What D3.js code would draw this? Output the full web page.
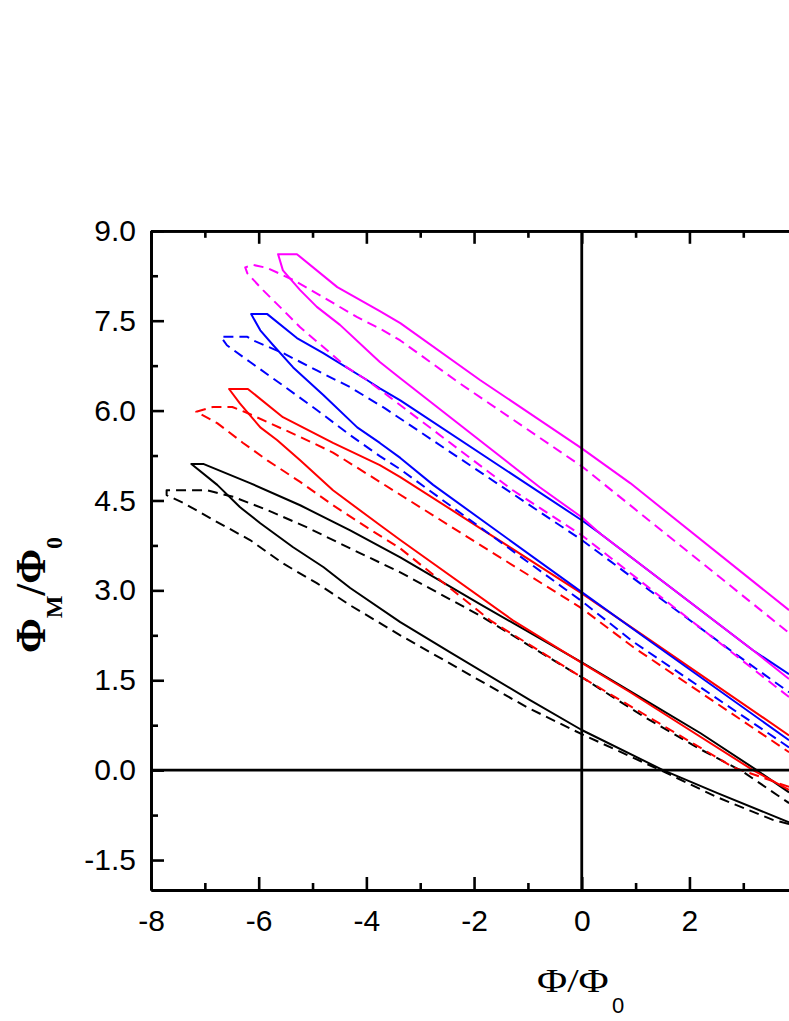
<!DOCTYPE html>
<html><head><meta charset="utf-8">
<script src="https://cdn.jsdelivr.net/npm/d3@7"></script>
<style>html,body{margin:0;padding:0;background:#fff;overflow:hidden}</style>
</head><body>
<svg id="chart" width="789" height="1021"></svg>
<script>
// ---- data (Φ/Φ0 , ΦM/Φ0) ----
const xTicks = [-8, -6, -4, -2, 0, 2, 4, 6, 8];
const xMinorTicks = [-7, -5, -3, -1, 1, 3, 5, 7];
const yTicks = [-1.5, 0, 1.5, 3.0, 4.5, 6.0, 7.5, 9.0];
const yMinorTicks = [-0.75, 0.75, 2.25, 3.75, 5.25, 6.75, 8.25];

const blackSolidUpper = [[-7.25,5.11],[-7.03,5.11],[-6.16,4.79],[-5.23,4.42],[-4.30,4.00],[-3.37,3.55],[-1.89,2.77],[0,1.80],[1.27,1.12],[2.20,0.62],[3.25,0.0],[3.85,-0.37]];
const blackSolidLower = [[-7.25,5.11],[-6.77,4.76],[-6.35,4.39],[-5.97,4.12],[-5.36,3.72],[-4.80,3.39],[-4.30,3.04],[-3.37,2.47],[-2.45,1.97],[-0.96,1.17],[0,0.67],[1.51,0.0],[2.51,-0.38],[3.85,-0.87]];
const blackDashUpper = [[-7.71,4.67],[-6.96,4.67],[-6.47,4.56],[-5.84,4.34],[-5.10,4.05],[-4.30,3.70],[-3.37,3.30],[-1.89,2.58],[-0.96,2.07],[0,1.55],[1.14,0.90],[2.20,0.35],[3.00,-0.03],[3.85,-0.55]];
const blackDashLower = [[-7.71,4.59],[-7.40,4.46],[-6.77,4.14],[-6.16,3.84],[-5.55,3.45],[-4.92,3.12],[-4.30,2.75],[-3.37,2.25],[-1.02,1.05],[0,0.60],[1.58,-0.05],[2.51,-0.45],[3.55,-0.83],[3.85,-0.90]];

const redSolidUpper = [[-6.55,6.36],[-6.20,6.36],[-5.55,5.89],[-4.62,5.46],[-3.75,5.09],[-3.37,4.89],[-1.89,4.04],[0,2.95],[1.27,2.17],[3.85,0.58]];
const redSolidLower = [[-6.55,6.36],[-6.35,6.12],[-6.16,5.92],[-5.97,5.72],[-5.66,5.51],[-5.23,5.17],[-4.62,4.67],[-3.75,4.09],[-3.37,3.84],[-1.28,2.50],[0,1.79],[0.90,1.30],[3.18,0.0],[3.85,-0.33]];
const redDashUpper = [[-7.16,5.98],[-6.85,6.06],[-6.49,6.06],[-6.21,5.96],[-5.84,5.81],[-5.23,5.56],[-4.62,5.30],[-3.75,4.81],[-1.89,3.76],[0,2.70],[0.96,2.05],[3.85,0.30]];
const redDashLower = [[-7.16,5.98],[-6.77,5.79],[-6.29,5.46],[-5.84,5.17],[-5.23,4.81],[-4.62,4.42],[-3.99,4.05],[-3.37,3.70],[-1.70,2.50],[0,1.55],[2.81,0.05],[3.85,-0.28]];

const blueSolidUpper = [[-6.14,7.61],[-5.84,7.61],[-5.29,7.21],[-4.80,6.96],[-3.99,6.51],[-3.75,6.37],[-3.37,6.17],[0,4.17],[0.34,3.95],[3.18,2.00],[3.85,1.60]];
const blueSolidLower = [[-6.14,7.61],[-5.97,7.34],[-5.73,7.09],[-5.36,6.72],[-4.80,6.26],[-4.17,5.72],[-3.75,5.46],[-3.37,5.21],[-2.76,4.76],[0,2.97],[1.27,2.15],[3.85,0.50]];
const blueDashUpper = [[-6.70,7.23],[-6.21,7.23],[-6.10,7.17],[-5.55,6.96],[-4.92,6.67],[-4.30,6.39],[-3.66,6.04],[0,3.84],[2.76,2.00],[3.85,1.30]];
const blueDashLower = [[-6.70,7.23],[-6.59,7.09],[-6.16,6.81],[-5.55,6.42],[-4.92,6.01],[-4.30,5.59],[-3.75,5.24],[-3.37,5.02],[0,2.82],[0.96,2.14],[3.85,0.38]];

const magentaSolidUpper = [[-5.64,8.61],[-5.29,8.61],[-4.54,8.06],[-3.75,7.66],[-3.37,7.46],[-1.89,6.51],[0,5.37],[0.90,4.79],[3.85,2.67]];
const magentaSolidLower = [[-5.64,8.61],[-5.55,8.34],[-5.23,8.01],[-4.92,7.73],[-4.49,7.43],[-3.99,7.01],[-3.75,6.81],[-3.37,6.54],[-0.78,4.72],[0,4.22],[0.34,3.95],[3.18,2.00],[3.85,1.52]];
const magentaDashUpper = [[-6.25,8.39],[-6.10,8.43],[-5.84,8.38],[-5.36,8.18],[-4.80,7.89],[-4.17,7.56],[-3.69,7.34],[-3.37,7.17],[-2.29,6.47],[0,5.07],[3.85,2.29]];
const magentaDashLower = [[-6.25,8.39],[-6.21,8.29],[-5.92,8.01],[-5.55,7.68],[-5.23,7.39],[-4.80,7.06],[-4.36,6.72],[-3.99,6.51],[-3.56,6.22],[-1.28,4.67],[0,3.92],[3.85,1.22]];

const seriesColors = ["#000000", "#ff0000", "#0000ff", "#ff00ff"];
const loops = [
  {color: seriesColors[0], dashed: false, upper: blackSolidUpper, lower: blackSolidLower},
  {color: seriesColors[0], dashed: true,  upper: blackDashUpper,  lower: blackDashLower},
  {color: seriesColors[1], dashed: false, upper: redSolidUpper, lower: redSolidLower},
  {color: seriesColors[1], dashed: true,  upper: redDashUpper,  lower: redDashLower},
  {color: seriesColors[2], dashed: false, upper: blueSolidUpper, lower: blueSolidLower},
  {color: seriesColors[2], dashed: true,  upper: blueDashUpper,  lower: blueDashLower},
  {color: seriesColors[3], dashed: false, upper: magentaSolidUpper, lower: magentaSolidLower},
  {color: seriesColors[3], dashed: true,  upper: magentaDashUpper,  lower: magentaDashLower}
];

// ---- layout ----
const svg = d3.select("#chart");
const plotLeft = 151, plotRight = 1012.5, plotTop = 230.8, plotBottom = 890;
const x = d3.scaleLinear().domain([-8, 8]).range([plotLeft, plotRight]);
const y = d3.scaleLinear().domain([-2, 9]).range([plotBottom, plotTop]);

const line = d3.line().x(d => x(d[0])).y(d => y(d[1]));

const gCurves = svg.append("g");
loops.forEach(l => {
  const pts = l.lower.slice().reverse().concat(l.upper);
  gCurves.append("path")
    .attr("d", line(pts))
    .attr("fill", "none")
    .attr("stroke", l.color)
    .attr("stroke-width", 2)
    .attr("stroke-linejoin", "round")
    .attr("stroke-dasharray", l.dashed ? "10,6" : null);
});

// zero lines
svg.append("line").attr("x1", x(-8)).attr("x2", x(8)).attr("y1", y(0)).attr("y2", y(0))
  .attr("stroke", "#000").attr("stroke-width", 2.8);
svg.append("line").attr("x1", x(0)).attr("x2", x(0)).attr("y1", y(-2)).attr("y2", y(9))
  .attr("stroke", "#000").attr("stroke-width", 2.8);

// ---- axes ----
const fontSans = "'Liberation Sans', Arimo, Arial, sans-serif";
function styleAxis(g) {
  g.select(".domain").attr("stroke", "#000").attr("stroke-width", 2.8);
  g.selectAll(".tick line").attr("stroke", "#000").attr("stroke-width", 2.6);
  g.selectAll("text").attr("font-family", fontSans).attr("font-size", 30).attr("fill", "#000");
}

const gx = svg.append("g").attr("transform", `translate(0,${plotBottom})`)
  .call(d3.axisBottom(x).tickValues(xTicks).tickSizeInner(-13).tickSizeOuter(0).tickPadding(20).tickFormat(d => String(d)));
styleAxis(gx);
const gxm = svg.append("g").attr("transform", `translate(0,${plotBottom})`)
  .call(d3.axisBottom(x).tickValues(xMinorTicks).tickSizeInner(-7).tickSizeOuter(0).tickFormat(""));
styleAxis(gxm);

const gxt = svg.append("g").attr("transform", `translate(0,${plotTop})`)
  .call(d3.axisTop(x).tickValues(xTicks).tickSizeInner(-13).tickSizeOuter(0).tickFormat(""));
styleAxis(gxt);
const gxtm = svg.append("g").attr("transform", `translate(0,${plotTop})`)
  .call(d3.axisTop(x).tickValues(xMinorTicks).tickSizeInner(-7).tickSizeOuter(0).tickFormat(""));
styleAxis(gxtm);

const gy = svg.append("g").attr("transform", `translate(${plotLeft},0)`)
  .call(d3.axisLeft(y).tickValues(yTicks).tickSizeInner(-13).tickSizeOuter(0).tickPadding(15).tickFormat(d => d.toFixed(1)));
styleAxis(gy);
const gym = svg.append("g").attr("transform", `translate(${plotLeft},0)`)
  .call(d3.axisLeft(y).tickValues(yMinorTicks).tickSizeInner(-7).tickSizeOuter(0).tickFormat(""));
styleAxis(gym);

const gyr = svg.append("g").attr("transform", `translate(${plotRight},0)`)
  .call(d3.axisRight(y).tickValues(yTicks).tickSizeInner(-13).tickSizeOuter(0).tickFormat(""));
styleAxis(gyr);

// ---- axis titles ----
const fontSerif = "'Liberation Serif', 'Times New Roman', serif";
svg.append("text")
  .attr("transform", `translate(537,992) scale(1.25,1)`)
  .attr("font-family", fontSerif).attr("font-size", 33).attr("fill", "#000")
  .text("Φ/Φ");
svg.append("text")
  .attr("x", 612).attr("y", 1013)
  .attr("font-family", fontSans).attr("font-size", 22).attr("fill", "#000")
  .text("0");

const yt = svg.append("text")
  .attr("transform", `translate(45,595) rotate(-90)`)
  .attr("text-anchor", "middle")
  .attr("font-family", fontSerif).attr("font-weight", "bold").attr("font-size", 42).attr("fill", "#000");
yt.append("tspan").text("Φ");
yt.append("tspan").attr("dy", 17).attr("font-size", 24).text("M");
yt.append("tspan").attr("dy", -17).text("/Φ");
yt.append("tspan").attr("dy", 17).attr("font-size", 24).text("0");
</script>
</body></html>
